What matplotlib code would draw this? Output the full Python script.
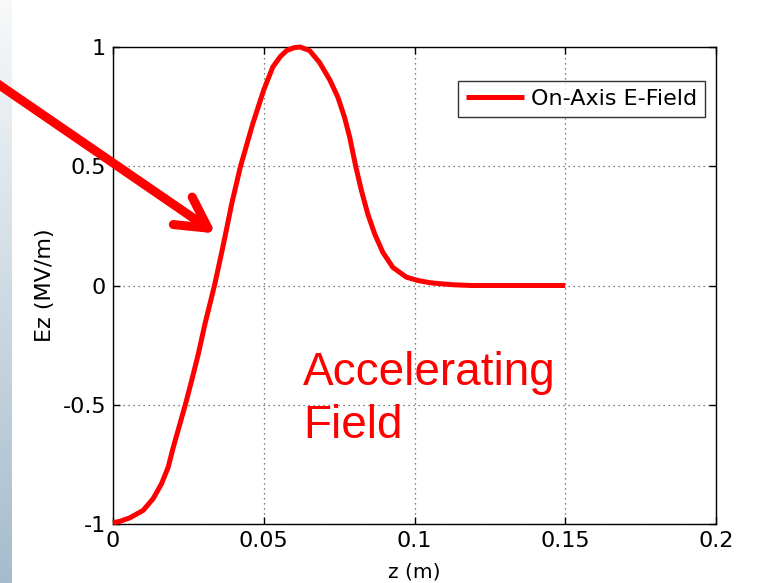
import numpy as np
import matplotlib
matplotlib.use("Agg")
import matplotlib.pyplot as plt
from matplotlib.colors import LinearSegmentedColormap

# on-axis field profile
z_m = [0.0, 0.0025, 0.0056, 0.010, 0.0133, 0.0161, 0.0183, 0.020, 0.0222,
       0.0242, 0.0261, 0.0283, 0.0305, 0.0327, 0.0338, 0.0365, 0.0395,
       0.0423, 0.0464, 0.050, 0.053, 0.0555, 0.0576, 0.060, 0.062, 0.0652,
       0.0685, 0.0719, 0.0746, 0.0768, 0.0785, 0.0805, 0.0824, 0.0845,
       0.0868, 0.0895, 0.0928, 0.0973, 0.1011, 0.105, 0.108, 0.113, 0.119,
       0.150]
ez = [-0.995, -0.988, -0.974, -0.943, -0.894, -0.831, -0.762, -0.678, -0.58,
      -0.49, -0.398, -0.287, -0.161, -0.049, 0.008, 0.165, 0.35,
      0.5, 0.68, 0.82, 0.916, 0.96, 0.985, 0.997, 1.0, 0.985,
      0.935, 0.862, 0.789, 0.705, 0.622, 0.5, 0.398, 0.3,
      0.216, 0.139, 0.076, 0.035, 0.021, 0.012, 0.008, 0.003, 0.0,
      0.0]
xticks = [0, 0.05, 0.1, 0.15, 0.2]
xtick_labels = ["0", "0.05", "0.1", "0.15", "0.2"]
yticks = [-1, -0.5, 0, 0.5, 1]
ytick_labels = ["-1", "-0.5", "0", "0.5", "1"]

RED = "#ff0000"
W, H = 780, 583
plt.rcParams.update({"font.family": "DejaVu Sans", "font.size": 16})
fig = plt.figure(figsize=(W / 100, H / 100), dpi=100)

# slide background strip on the left
bg = fig.add_axes([0, 0, 12 / W, 1])
cmap = LinearSegmentedColormap.from_list("slide", ["#f7f9fa", "#a6bccc"])
bg.imshow(np.linspace(0, 1, 200)[:, None], aspect="auto", cmap=cmap,
          extent=[0, 1, 0, 1], origin="upper")
bg.axis("off")

ax = fig.add_axes([113 / W, 1 - 524 / H, (716 - 113) / W, (524 - 47) / H])
ax.plot(z_m, ez, color=RED, lw=3.6, label="On-Axis E-Field",
        solid_joinstyle="round", solid_capstyle="butt", zorder=3,
        clip_on=False)
ax.set_xlim(0, 0.2)
ax.set_ylim(-1, 1)
ax.set_xticks(xticks, xtick_labels)
ax.set_yticks(yticks, ytick_labels)
ax.tick_params(direction="in", length=5, width=1, top=True, right=True,
               labelsize=16, pad=5)
ax.grid(True, ls=(0, (1, 3)), color="#555555", lw=0.9)
for s in ax.spines.values():
    s.set_linewidth(1)
ax.set_xlabel("z (m)", fontsize=14.5, labelpad=8)
ax.set_ylabel("Ez (MV/m)", fontsize=16, labelpad=5)

leg = ax.legend(loc="upper right", bbox_to_anchor=(705 / W, 1 - 81 / H),
                bbox_transform=fig.transFigure, fontsize=16, frameon=True,
                fancybox=False, shadow=False, borderpad=0.36,
                handlelength=2.6, handletextpad=0.3, borderaxespad=0)
leg.get_frame().set_edgecolor("black")
leg.get_frame().set_linewidth(1)

# slide annotations
for txt, yb in [("Accelerating", 385), ("Field", 438)]:
    fig.text(303 / W, 1 - yb / H, txt, color=RED, fontsize=33,
             family="Liberation Sans", va="baseline", ha="left")

fig.add_artist(matplotlib.patches.FancyArrowPatch(
    (-5, H - 82), (218, H - 235), transform=None,
    arrowstyle="->, head_length=22, head_width=12", mutation_scale=1,
    color=RED, lw=6.5, capstyle="round", joinstyle="round", clip_on=False))

fig.savefig("out.png", dpi=100)
